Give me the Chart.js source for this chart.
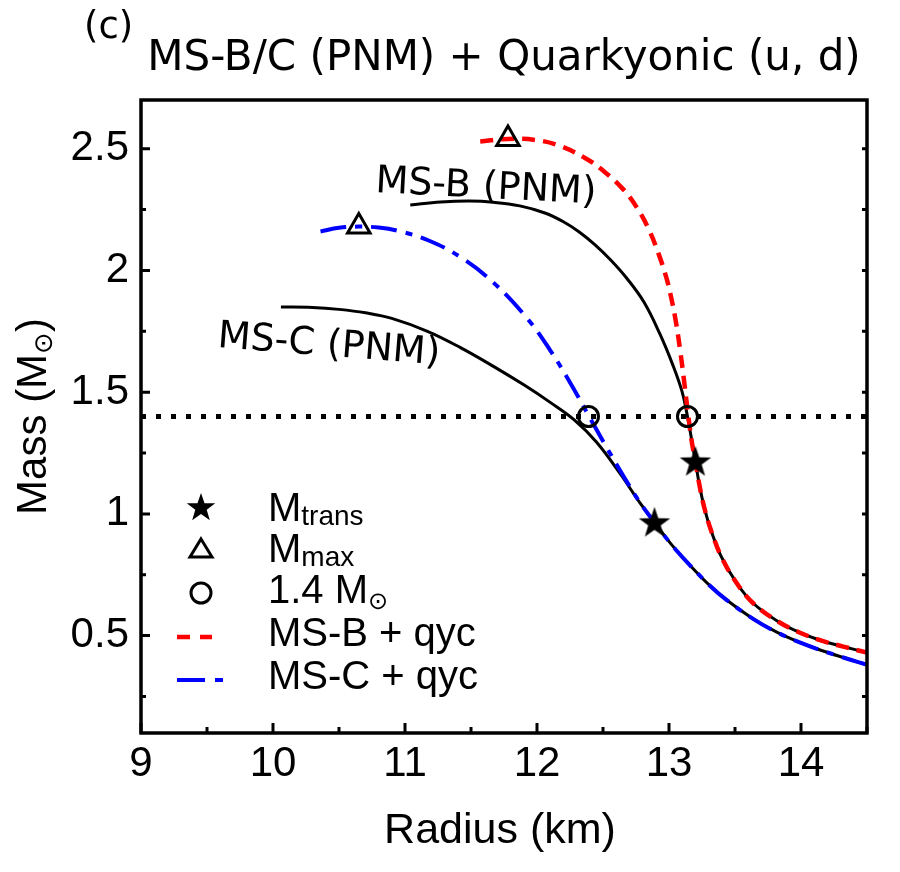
<!DOCTYPE html>
<html><head><meta charset="utf-8">
<script src="https://cdn.jsdelivr.net/npm/chart.js@4.4.0/dist/chart.umd.min.js"></script>
<style>html,body{margin:0;padding:0;background:#fff}</style>
</head><body>
<canvas id="c" width="900" height="872"></canvas>
<script>
// ---- data (Radius km, Mass Msun) ----
const msbPnmR = [11.04, 11.27, 11.49, 11.67, 11.87, 12.06, 12.20, 12.32, 12.44, 12.56, 12.68, 12.81, 12.93, 13.03, 13.10, 13.14, 13.17, 13.20, 13.23, 13.27, 13.32, 13.40, 13.52, 13.64, 13.82, 13.98, 14.15, 14.32, 14.5];
const msbPnmM = [2.269, 2.281, 2.285, 2.280, 2.265, 2.236, 2.200, 2.158, 2.105, 2.042, 1.968, 1.870, 1.740, 1.610, 1.500, 1.400, 1.310, 1.215, 1.120, 1.020, 0.930, 0.820, 0.710, 0.632, 0.560, 0.515, 0.480, 0.455, 0.430];

const mscPnmR = [10.06, 10.30, 10.50, 10.70, 10.90, 11.17, 11.42, 11.67, 11.90, 12.10, 12.28, 12.45, 12.63, 12.78, 12.89, 13.01, 13.14, 13.31, 13.44, 13.64, 13.82, 14.0, 14.15, 14.32, 14.5];
const mscPnmM = [1.850, 1.848, 1.840, 1.826, 1.803, 1.750, 1.683, 1.606, 1.530, 1.458, 1.387, 1.295, 1.165, 1.045, 0.965, 0.880, 0.800, 0.705, 0.645, 0.568, 0.513, 0.470, 0.440, 0.410, 0.380];

const msbQycR = [11.57, 11.78, 12.00, 12.18, 12.37, 12.50, 12.65, 12.76, 12.85, 12.92, 12.98, 13.02, 13.055, 13.085, 13.11, 13.13, 13.147, 13.17, 13.20, 13.23, 13.27, 13.32, 13.40, 13.52, 13.64, 13.82, 13.98, 14.15, 14.32, 14.5];
const msbQycM = [2.530, 2.540, 2.535, 2.510, 2.460, 2.410, 2.335, 2.255, 2.165, 2.070, 1.970, 1.880, 1.780, 1.670, 1.565, 1.475, 1.400, 1.305, 1.215, 1.120, 1.020, 0.930, 0.820, 0.710, 0.632, 0.560, 0.515, 0.480, 0.455, 0.430];

const mscQycR = [10.36, 10.50, 10.65, 10.80, 10.95, 11.17, 11.42, 11.67, 11.93, 12.10, 12.25, 12.39, 12.52, 12.65, 12.77, 12.89, 13.01, 13.14, 13.31, 13.44, 13.64, 13.82, 14.0, 14.15, 14.32, 14.5];
const mscQycM = [2.160, 2.175, 2.180, 2.176, 2.162, 2.125, 2.055, 1.950, 1.800, 1.672, 1.540, 1.405, 1.280, 1.160, 1.055, 0.965, 0.880, 0.800, 0.705, 0.645, 0.568, 0.513, 0.470, 0.440, 0.410, 0.380];

const transR = [12.89, 13.20];
const transM = [0.965, 1.215];
const maxR = [11.78, 10.65];
const maxM = [2.54, 2.18];
const r14R = [12.39, 13.14];
const r14M = [1.40, 1.40];
const refR = [9, 14.5];
const refM = [1.4, 1.4];

const xTicks = [9, 10, 11, 12, 13, 14];
const xTickLabels = ['9', '10', '11', '12', '13', '14'];
const xMinor = [9.5, 10.5, 11.5, 12.5, 13.5, 14.5];
const yTicks = [0.5, 1, 1.5, 2, 2.5];
const yTickLabels = ['0.5', '1', '1.5', '2', '2.5'];
const yMinor = [0.25, 0.75, 1.25, 1.75, 2.25];

const AXF = '"Liberation Sans", Arial, Helvetica, sans-serif';
const ANF = '"DejaVu Sans", sans-serif';

const pts = (xs, ys) => xs.map((v, i) => ({x: v, y: ys[i]}));

function starPath(ctx, cx, cy, R, r) {
  ctx.beginPath();
  for (let i = 0; i < 10; i++) {
    const ang = -Math.PI / 2 + i * Math.PI / 5;
    const rad = i % 2 === 0 ? R : r;
    const px = cx + rad * Math.cos(ang), py = cy + rad * Math.sin(ang);
    if (i === 0) ctx.moveTo(px, py); else ctx.lineTo(px, py);
  }
  ctx.closePath();
}
const starImg = document.createElement('canvas');
starImg.width = 34; starImg.height = 34;
{ const s = starImg.getContext('2d'); s.fillStyle = '#000'; starPath(s, 17, 18, 16.5, 6.6); s.fill(); }

function drawRich(ctx, parts, x, y, align) {
  let w = 0;
  parts.forEach(p => { ctx.font = p.font; p.w = ctx.measureText(p.t).width; w += p.w; });
  let cx = align === 'center' ? x - w / 2 : x;
  ctx.textAlign = 'left'; ctx.textBaseline = 'alphabetic';
  parts.forEach(p => { ctx.font = p.font; ctx.fillText(p.t, cx, y + (p.dy || 0)); cx += p.w; });
}

const decor = {
  id: 'decor',
  afterDraw(chart) {
    const {ctx, chartArea: a, scales: {x, y}} = chart;
    ctx.save();
    ctx.strokeStyle = '#000'; ctx.fillStyle = '#000';
    // frame
    ctx.lineWidth = 3.5;
    ctx.strokeRect(a.left, a.top, a.right - a.left, a.bottom - a.top);
    // ticks (inward)
    ctx.lineWidth = 3;
    ctx.beginPath();
    xTicks.forEach(v => { const p = x.getPixelForValue(v); ctx.moveTo(p, a.bottom); ctx.lineTo(p, a.bottom - 10); });
    xMinor.forEach(v => { const p = x.getPixelForValue(v); ctx.moveTo(p, a.bottom); ctx.lineTo(p, a.bottom - 6); });
    yTicks.forEach(v => { const p = y.getPixelForValue(v); ctx.moveTo(a.left, p); ctx.lineTo(a.left + 9, p); ctx.moveTo(a.right, p); ctx.lineTo(a.right - 5, p); });
    yMinor.forEach(v => { const p = y.getPixelForValue(v); ctx.moveTo(a.left, p); ctx.lineTo(a.left + 5, p); ctx.moveTo(a.right, p); ctx.lineTo(a.right - 5, p); });
    ctx.stroke();

    // title and panel label
    ctx.textBaseline = 'alphabetic';
    ctx.textAlign = 'center';
    ctx.font = '42px ' + ANF;
    ctx.fillText('MS-B/C (PNM) + Quarkyonic (u, d)', (a.left + a.right) / 2, 70);
    ctx.textAlign = 'left';
    ctx.font = '37px ' + ANF;
    ctx.fillText('(c)', 84, 38);

    // curve annotations
    ctx.font = '38px ' + ANF;
    ctx.save(); ctx.translate(375, 192); ctx.rotate(3 * Math.PI / 180); ctx.fillText('MS-B (PNM)', 0, 0); ctx.restore();
    ctx.save(); ctx.translate(217, 347); ctx.rotate(4.5 * Math.PI / 180); ctx.fillText('MS-C (PNM)', 0, 0); ctx.restore();

    // axis titles
    drawRich(ctx, [{t: 'Radius (km)', font: '43px ' + AXF}], (a.left + a.right) / 2 - 4, 843, 'center');
    ctx.save();
    ctx.translate(46, (a.top + a.bottom) / 2);
    ctx.rotate(-Math.PI / 2);
    drawRich(ctx, [
      {t: 'Mass (M', font: '42px ' + AXF},
      {t: '\u2299', font: '26px ' + ANF, dy: 6},
      {t: ')', font: '42px ' + AXF}
    ], 0, 0, 'center');
    ctx.restore();

    // legend
    const sx = 201, tx = 268;
    ctx.fillStyle = '#000';
    starPath(ctx, sx, 508, 15, 6); ctx.fill();
    drawRich(ctx, [{t: 'M', font: '40px ' + AXF}, {t: 'trans', font: '28px ' + AXF, dy: 4}], tx, 521, 'left');
    ctx.lineWidth = 3;
    ctx.beginPath(); ctx.moveTo(sx, 539); ctx.lineTo(sx + 11, 557); ctx.lineTo(sx - 11, 557); ctx.closePath(); ctx.stroke();
    drawRich(ctx, [{t: 'M', font: '40px ' + AXF}, {t: 'max', font: '28px ' + AXF, dy: 4}], tx, 562, 'left');
    ctx.beginPath(); ctx.arc(sx, 593, 10, 0, Math.PI * 2); ctx.stroke();
    drawRich(ctx, [{t: '1.4 M', font: '40px ' + AXF}, {t: '\u2299', font: '24px ' + ANF, dy: 6}], tx, 603, 'left');
    ctx.lineWidth = 4.5; ctx.lineCap = 'butt';
    ctx.strokeStyle = '#ff0000';
    ctx.beginPath(); ctx.moveTo(177, 637); ctx.lineTo(190, 637); ctx.moveTo(200, 637); ctx.lineTo(212, 637); ctx.stroke();
    drawRich(ctx, [{t: 'MS-B + qyc', font: '40px ' + AXF}], tx, 646, 'left');
    ctx.strokeStyle = '#0000ff'; ctx.lineWidth = 4;
    ctx.beginPath(); ctx.moveTo(177, 680); ctx.lineTo(205, 680); ctx.moveTo(215, 680); ctx.lineTo(223, 680); ctx.stroke();
    drawRich(ctx, [{t: 'MS-C + qyc', font: '40px ' + AXF}], tx, 689, 'left');
    ctx.restore();
  }
};

const T = 0.4;
new Chart(document.getElementById('c'), {
  type: 'line',
  data: {
    datasets: [
      {data: pts(transR, transM), showLine: false, pointStyle: starImg, pointRadius: 17},
      {data: pts(maxR, maxM), showLine: false, pointStyle: 'triangle', pointRadius: 13, pointBorderWidth: 3, pointBorderColor: '#000', pointBackgroundColor: 'rgba(0,0,0,0)'},
      {data: pts(r14R, r14M), showLine: false, pointStyle: 'circle', pointRadius: 10, pointBorderWidth: 3, pointBorderColor: '#000', pointBackgroundColor: 'rgba(0,0,0,0)'},
      {data: pts(msbQycR, msbQycM), borderColor: '#ff0000', borderWidth: 4.5, borderDash: [13, 8], pointRadius: 0, tension: T, borderCapStyle: 'butt'},
      {data: pts(mscQycR, mscQycM), borderColor: '#0000ff', borderWidth: 4, borderDash: [26, 9, 7, 9], pointRadius: 0, tension: T, borderCapStyle: 'butt'},
      {data: pts(msbPnmR, msbPnmM), borderColor: '#000', borderWidth: 3, pointRadius: 0, tension: T},
      {data: pts(mscPnmR, mscPnmM), borderColor: '#000', borderWidth: 3, pointRadius: 0, tension: T},
      {data: pts(refR, refM), borderColor: '#000', borderWidth: 5, borderDash: [5, 10], pointRadius: 0, borderCapStyle: 'butt'}
    ]
  },
  options: {
    responsive: false,
    animation: false,
    layout: {padding: {top: 100, right: 33, left: 0, bottom: 0}},
    plugins: {legend: {display: false}, tooltip: {enabled: false}, title: {display: false}},
    scales: {
      x: {
        type: 'linear', min: 9, max: 14.5,
        grid: {display: false, drawTicks: false}, border: {display: false},
        afterBuildTicks: s => { s.ticks = xTicks.map(v => ({value: v})); },
        afterFit: s => { s.height = 139; },
        ticks: {color: '#000', font: {family: AXF, size: 42}, padding: 6, maxRotation: 0, autoSkip: false,
          callback: (v, i) => xTickLabels[i]}
      },
      y: {
        type: 'linear', min: 0.1, max: 2.7,
        grid: {display: false, drawTicks: false}, border: {display: false},
        afterBuildTicks: s => { s.ticks = yTicks.map(v => ({value: v})); },
        afterFit: s => { s.width = 141; },
        ticks: {color: '#000', font: {family: AXF, size: 42}, padding: 12, autoSkip: false,
          callback: (v, i) => yTickLabels[i]}
      }
    }
  },
  plugins: [decor]
});
</script>
</body></html>
